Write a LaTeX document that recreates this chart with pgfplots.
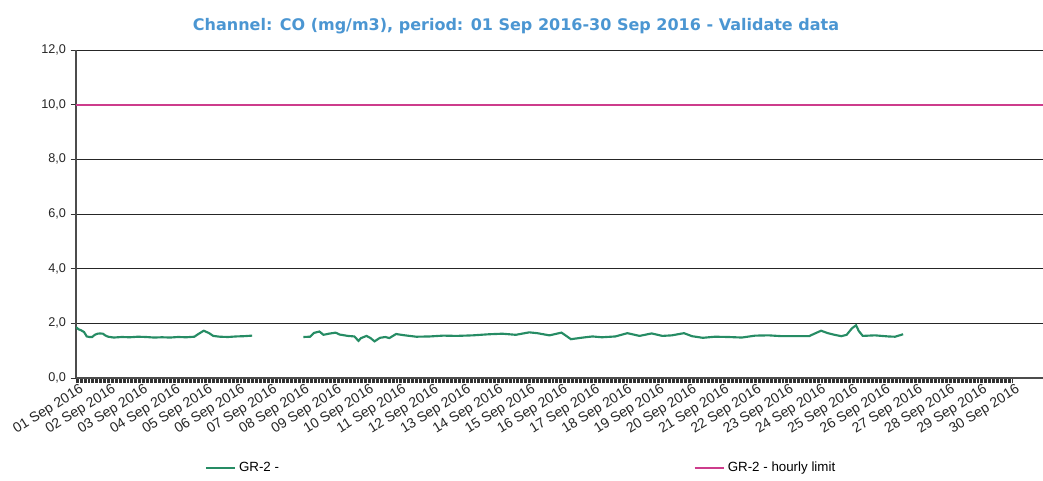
\documentclass[border=0pt]{standalone}
\usepackage{fontspec}
\setmainfont{Liberation Sans}
\newfontfamily\titlefont{DejaVu Sans}
\usepackage{pgfplots}
\pgfplotsset{compat=1.18}
\definecolor{grline}{RGB}{38,140,100}
\definecolor{limline}{RGB}{205,60,140}
\definecolor{titleblue}{RGB}{75,150,210}

\begin{document}
\begin{tikzpicture}[x=0.75pt,y=0.75pt]
\path[use as bounding box] (0,0) rectangle (1043,481);
\begin{axis}[
  at={(57pt,77.25pt)}, anchor=south west,
  width=725.25pt, height=246pt, scale only axis,
  xmin=0, xmax=719, ymin=0, ymax=12,
  axis x line*=bottom, axis y line*=left,
  axis line style={black!70, line width=0.8pt},
  ytick={0,2,...,12},
  ymajorgrids, major grid style={black!85, line width=0.6pt},
  xtick={0,24,...,696},
  xticklabels={01 Sep 2016,02 Sep 2016,03 Sep 2016,04 Sep 2016,05 Sep 2016,06 Sep 2016,07 Sep 2016,08 Sep 2016,09 Sep 2016,10 Sep 2016,11 Sep 2016,12 Sep 2016,13 Sep 2016,14 Sep 2016,15 Sep 2016,16 Sep 2016,17 Sep 2016,18 Sep 2016,19 Sep 2016,20 Sep 2016,21 Sep 2016,22 Sep 2016,23 Sep 2016,24 Sep 2016,25 Sep 2016,26 Sep 2016,27 Sep 2016,28 Sep 2016,29 Sep 2016,30 Sep 2016},
  minor x tick num=23,
  tick align=outside, xtick pos=bottom, ytick pos=left,
  major tick length=4pt, minor tick length=3.5pt,
  every tick/.style={black!80, line width=0.4pt},
  x tick label style={rotate=32, anchor=north east, font=\fontsize{10.5}{12}\selectfont, inner sep=1pt, text=black!85, xshift=3pt},
  y tick label style={font=\fontsize{9.5}{11}\selectfont, text=black!85},
  yticklabel style={/pgf/number format/.cd, fixed, fixed zerofill, precision=1, use comma, assume math mode=true},
  unbounded coords=jump,
  legend columns=2,
  legend style={draw=none, fill=none, at={(0.133,-0.274)}, anchor=west, inner sep=0pt,
    font=\fontsize{10}{12}\selectfont,
    /tikz/every even column/.append style={column sep=309pt}},
  legend image code/.code={\draw[#1] (0pt,0pt) -- (22pt,0pt);},
]
\addplot[grline, line width=1.6pt] coordinates {
(0,1.86) (2,1.78) (4,1.74) (6,1.68) (8,1.52) (10,1.50) (12,1.50) (14,1.58) (16,1.62) (18,1.63) (20,1.62) (22,1.55) (24,1.51) (28,1.48) (34,1.50) (40,1.49) (46,1.51) (52,1.50) (58,1.48) (64,1.49) (70,1.48) (76,1.50) (82,1.49) (88,1.51) (91,1.61) (95,1.73) (99,1.64) (102,1.54) (107,1.51) (113,1.50) (119,1.52) (125,1.53) (131,1.55)
(150,nan)
(169,1.50) (174,1.51) (177,1.65) (181,1.70) (184,1.58) (188,1.62) (193,1.66) (196,1.59) (202,1.54) (207,1.52) (210,1.36) (212,1.46) (216,1.54) (219,1.46) (222,1.34) (226,1.47) (230,1.50) (233,1.46) (238,1.61) (243,1.57) (253,1.51) (263,1.52) (273,1.55) (283,1.54) (295,1.56) (307,1.60) (317,1.62) (327,1.58) (337,1.67) (343,1.64) (352,1.56) (361,1.66) (368,1.42) (377,1.48) (384,1.52) (391,1.49) (401,1.52) (410,1.64) (419,1.54) (428,1.63) (436,1.54) (443,1.56) (452,1.64) (458,1.53) (466,1.47) (475,1.51) (485,1.50) (495,1.48) (505,1.55) (515,1.56) (525,1.53) (535,1.53) (545,1.53) (549,1.62) (554,1.73) (559,1.64) (564,1.58) (569,1.53) (573,1.58) (577,1.82) (580,1.93) (582,1.72) (585,1.54) (594,1.56) (604,1.52) (609,1.51) (615,1.60)
};
\addlegendentry{GR-2 -}
\addplot[limline, line width=1.6pt] coordinates {(0,10) (719,10)};
\addlegendentry{GR-2 - hourly limit}
\end{axis}
\node[font=\titlefont\bfseries\fontsize{12}{14}\selectfont, text=titleblue] at (516,455) {Channel: CO (mg/m3), period: 01 Sep 2016-30 Sep 2016 - Validate data};
\end{tikzpicture}
\end{document}
